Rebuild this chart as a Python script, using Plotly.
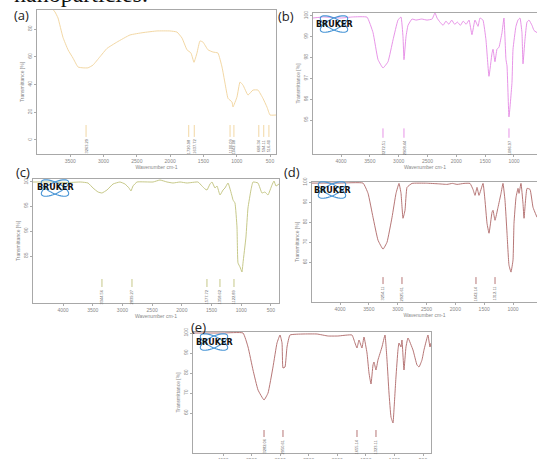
import math
import plotly.graph_objects as go

W, H = 537, 459

# ---------------- data ----------------
a_wn = [4000, 3800, 3730, 3685, 3610, 3534, 3459, 3384, 3309, 3234, 3159, 3054, 2949, 2798, 2603, 2408,
        2198, 2002, 1897, 1822, 1747, 1687, 1642, 1597, 1552, 1507, 1432, 1357, 1282, 1221, 1176, 1131,
        1071, 1056, 996, 951, 906, 831, 756, 681, 606, 546, 500, 410]
a_tr = [96, 96, 92.3, 88, 74, 65, 59, 52.6, 52, 52, 54, 60, 66, 70.6, 75.7, 77.4,
        78.6, 78.6, 77.8, 73.5, 65, 62.7, 56, 62.7, 71.4, 70.6, 65, 63.4, 62.7, 52.6, 41, 30,
        27.4, 23.8, 31, 41.8, 39.6, 32.4, 36, 36, 30, 23.8, 18, 18]
a_peaks = [3263.29, 1720.98, 1637.72, 1100.09, 1042.08, 668.34, 594.11, 516.40]
a_peak_labels = ["3263.29", "1720.98", "1637.72", "1100.09", "1042.08", "668.34", "594.11", "516.40"]

b_wn = [4486, 4300, 4000, 3800, 3549, 3445, 3358, 3272, 3185, 3098, 3012, 2960, 2925, 2908, 2873, 2838,
        2769, 2700, 2600, 2509, 2420, 2370, 2335, 2283, 2230, 2180, 2130, 2080, 2030, 1980, 1930, 1880,
        1830, 1780, 1729, 1677, 1624, 1590, 1538, 1486, 1434, 1382, 1364, 1330, 1295, 1260, 1208, 1174,
        1139, 1121, 1087, 1035, 1017, 966, 931, 896, 862, 844, 810, 775, 740, 688, 653, 601]
b_tr = [99.9, 99.95, 99.9, 99.95, 99.94, 99.2, 97.9, 97.5, 97.8, 98.85, 99.8, 99.95, 99.0, 97.9, 99.0, 99.55,
        99.85, 99.8, 99.85, 99.8, 99.85, 100.15, 99.9, 99.7, 99.55, 99.75, 99.6, 99.8, 99.6, 99.7, 99.55, 99.75,
        99.6, 99.8, 99.1, 99.8, 99.5, 99.9, 99.8, 98.85, 97.1, 98.2, 98.4, 97.8, 98.4, 98.5, 99.2, 99.9,
        97.9, 97.6, 95.15, 96.8, 98.4, 99.5, 99.8, 99.9, 99.2, 97.7, 98.85, 99.7, 99.8, 99.55, 99.3, 99.2]
b_peaks = [3272.51, 2908.44, 1086.97]
b_peak_labels = ["3272.51", "2908.44", "1086.97"]

c_wn = [4505, 4200, 3900, 3700, 3579, 3495, 3411, 3344, 3260, 3158, 3041, 2957, 2889, 2856, 2822, 2755,
        2485, 2368, 2250, 2149, 2031, 1913, 1728, 1661, 1610, 1577, 1526, 1493, 1442, 1408, 1358, 1307,
        1274, 1223, 1156, 1139, 1106, 1072, 1055, 1021, 988, 971, 921, 887, 837, 803, 719, 652,
        601, 551, 483, 449, 416, 365]
c_tr = [99.8, 99.8, 99.7, 99.8, 99.6, 98.6, 97.8, 97.6, 98.2, 99.4, 99.8, 99.4, 98.6, 98.0, 99.0, 99.8,
        99.8, 100.2, 99.8, 99.6, 99.8, 99.6, 99.8, 99.0, 98.4, 98.2, 99.4, 99.8, 98.6, 99.0, 97.2, 98.2,
        98.6, 99.6, 97.0, 96.2, 95.6, 90.8, 83.6, 82.8, 81.8, 83.6, 88.8, 94.6, 98.2, 99.8, 99.6, 97.6,
        97.8, 97.2, 99.2, 100.0, 99.0, 99.4]
c_peaks = [3344.56, 2839.27, 1577.72, 1358.62, 1122.89]
c_peak_labels = ["3344.56", "2839.27", "1577.72", "1358.62", "1122.89"]

d_wn = [4486, 4000, 3601, 3514, 3428, 3341, 3254, 3185, 3098, 3029, 2977, 2942, 2908, 2873, 2838, 2752,
        2500, 2300, 2145, 2050, 1971, 1850, 1746, 1694, 1659, 1624, 1590, 1520, 1486, 1451, 1416, 1364,
        1347, 1312, 1260, 1208, 1174, 1139, 1104, 1070, 1035, 1000, 983, 948, 913, 896, 862, 827,
        809, 757, 705, 653, 584]
d_tr = [99.65, 99.65, 99.65, 94.5, 82.5, 71, 66.5, 70, 82.5, 94.5, 99.5, 94.5, 82, 86, 97.5, 99.5,
        99.6, 99.3, 99.0, 99.5, 99.0, 99.5, 99.5, 96.5, 93.5, 97.5, 93.5, 99.5, 91, 79.5, 74.5, 85,
        86, 81, 87.5, 94.5, 99.5, 91, 74.5, 58.5, 55, 61, 79.5, 92.5, 97, 94.5, 99.5, 89.5,
        82, 97, 96.5, 87.5, 82.5]
d_peaks = [3254.11, 2925.61, 1642.14, 1312.11]
d_peak_labels = ["3254.11", "2925.61", "1642.14", "1312.11"]

e_wn = [4525, 4000, 3650, 3562, 3475, 3387, 3282, 3212, 3125, 3055, 3002, 2967, 2950, 2915, 2880, 2828,
        2600, 2355, 2163, 1988, 1743, 1690, 1655, 1620, 1568, 1533, 1480, 1445, 1410, 1375, 1358, 1323,
        1288, 1218, 1165, 1130, 1095, 1060, 1025, 1008, 973, 938, 920, 885, 868, 833, 798, 763,
        675, 605, 570, 518, 483, 430, 413, 378, 360]
e_tr = [100, 100, 100, 93, 81.5, 71.5, 66.5, 70, 83, 95, 99, 95, 82.5, 83, 93, 99,
        99.5, 99.5, 98.5, 98.5, 99, 95, 92.5, 96.5, 92.5, 98, 90, 80, 74.5, 84, 85.5, 81.5,
        86.5, 93, 99, 86.5, 70, 58, 55, 61.5, 78, 91.5, 95, 93, 96.5, 81.5, 93, 97.5,
        91.5, 84, 83, 86.5, 91.5, 97.5, 99, 93, 95]
e_peaks = [3282.06, 2950.61, 1655.14, 1323.11]
e_peak_labels = ["3282.06", "2950.61", "1655.14", "1323.11"]

a_xticks = [3500, 3000, 2500, 2000, 1500, 1000, 500]
b_xticks = [4000, 3500, 3000, 2500, 2000, 1500, 1000]
c_xticks = [4000, 3500, 3000, 2500, 2000, 1500, 1000, 500]
d_xticks = [4000, 3500, 3000, 2500, 2000, 1500, 1000]
e_xticks = [4000, 3500, 3000, 2500, 2000, 1500, 1000, 500]
a_yticks = [0, 20, 40, 60, 80]
b_yticks = [95, 96, 97, 98, 99, 100]
c_yticks = [85, 90, 95, 100]
d_yticks = [60, 70, 80, 90, 100]
e_yticks = [60, 70, 80, 90, 100]
panel_labels = ["(a)", "(b)", "(c)", "(d)", "(e)"]
x_titles = ["Wavenumber cm-1", "Wavenumber cm-1", "Wavenumber cm-1", "Wavenumber cm-1", ""]

# ---------------- layout config ----------------
def px_x(x):
    return x / W

def px_y(y):
    return 1 - y / H

panels = [
    dict(box=(37, 10, 276, 154), xr=[4000, 410], yr=[-10.1, 93.7], color="#F0D29A",
         wn=a_wn, tr=a_tr, xt=a_xticks, yt=a_yticks, pk=a_peaks, pl=a_peak_labels, my=(10.8, 2.2),
         logo=None, mirror_right=True, lab=(21, 15)),
    dict(box=(313, 13, 537, 154), xr=[4486, 601], yr=[93.37, 100.14], color="#E488E4",
         wn=b_wn, tr=b_tr, xt=b_xticks, yt=b_yticks, pk=b_peaks, pl=b_peak_labels, my=(94.6, 94.15),
         logo=(334, 24), mirror_right=False, lab=(286, 16)),
    dict(box=(33, 179, 279, 303), xr=[4505, 365], yr=[75.6, 100.4], color="#BFC27C",
         wn=c_wn, tr=c_tr, xt=c_xticks, yt=c_yticks, pk=c_peaks, pl=c_peak_labels, my=(80.4, 78.8),
         logo=(55, 188), mirror_right=True, lab=(23, 172)),
    dict(box=(312, 182, 537, 302), xr=[4486, 584], yr=[40, 100.2], color="#AE6666",
         wn=d_wn, tr=d_tr, xt=d_xticks, yt=d_yticks, pk=d_peaks, pl=d_peak_labels, my=(52.5, 49),
         logo=(332, 190), mirror_right=False, lab=(292, 172)),
    dict(box=(193, 332, 431, 453), xr=[4525, 360], yr=[40, 100.5], color="#AE6666",
         wn=e_wn, tr=e_tr, xt=e_xticks, yt=e_yticks, pk=e_peaks, pl=e_peak_labels, my=(51.5, 48),
         logo=(214, 342), mirror_right=True, lab=(198, 327)),
]

fig = go.Figure()
layout = dict(width=W, height=H, margin=dict(l=0, r=0, t=0, b=0, autoexpand=False),
              paper_bgcolor="white", plot_bgcolor="white", showlegend=False)
annotations = []
shapes = []

def ellipse_path(cx, cy, a, b, ang):
    pts = []
    for k in range(41):
        t = 2 * math.pi * k / 40
        ex, ey = a * math.cos(t), b * math.sin(t)
        xr = cx + ex * math.cos(ang) - ey * math.sin(ang)
        yr = cy + ex * math.sin(ang) + ey * math.cos(ang)
        pts.append((px_x(xr), px_y(yr)))
    return "M " + " L ".join(f"{x:.5f},{y:.5f}" for x, y in pts) + " Z"

for i, p in enumerate(panels):
    n = "" if i == 0 else str(i + 1)
    l, t, r, b = p["box"]
    xa = "x" + n
    ya = "y" + n
    fig.add_trace(go.Scatter(x=p["wn"], y=p["tr"], mode="lines", xaxis=xa, yaxis=ya,
                             line=dict(color=p["color"], width=0.9, shape="spline", smoothing=0.35),
                             hoverinfo="skip"))
    mx, my = [], []
    for w in p["pk"]:
        mx += [w, w, None]
        my += [p["my"][0], p["my"][1], None]
    fig.add_trace(go.Scatter(x=mx, y=my, mode="lines", xaxis=xa, yaxis=ya,
                             line=dict(color=p["color"], width=0.9), hoverinfo="skip"))
    for w, lbl in zip(p["pk"], p["pl"]):
        annotations.append(dict(x=w, y=p["my"][1], xref=xa, yref=ya, text=lbl, showarrow=False,
                                textangle=-90, yanchor="top", xanchor="center",
                                font=dict(size=4, color="#666", family="Liberation Sans")))
    axis_common = dict(showline=True, linecolor="#a8a8a8", linewidth=1, ticks="outside", ticklen=2,
                       tickcolor="#aaa", tickfont=dict(size=5, color="#888", family="Liberation Sans"),
                       showgrid=False, zeroline=False, automargin=False, fixedrange=True)
    layout["xaxis" + n] = dict(axis_common, domain=[px_x(l), px_x(r)], range=p["xr"], anchor=ya,
                               tickvals=p["xt"], mirror=True,
                               title=dict(text=x_titles[i], standoff=1,
                                          font=dict(size=5, color="#888", family="Liberation Sans")))
    layout["yaxis" + n] = dict(axis_common, domain=[px_y(b), px_y(t)], range=p["yr"], anchor=xa,
                               tickvals=p["yt"], tickangle=-90, mirror=p["mirror_right"],
                               title=dict(text="Transmittance [%]", standoff=2,
                                          font=dict(size=5, color="#888", family="Liberation Sans")))
    annotations.append(dict(x=px_x(p["lab"][0]), y=px_y(p["lab"][1]), xref="paper", yref="paper",
                            text=panel_labels[i], showarrow=False, xanchor="center", yanchor="middle",
                            font=dict(size=13, color="#222", family="Open Sans")))
    if p["logo"]:
        cx, cy = p["logo"]
        for ang in (math.radians(26), math.radians(-26)):
            shapes.append(dict(type="path", path=ellipse_path(cx, cy, 15, 5.5, ang), xref="paper",
                               yref="paper", line=dict(color="#4A96D6", width=1.1)))
        annotations.append(dict(x=px_x(cx), y=px_y(cy), xref="paper", yref="paper",
                                text="<b>BRUKER</b>", showarrow=False, xanchor="center", yanchor="middle",
                                font=dict(size=8, color="#111", family="DejaVu Sans")))

annotations.append(dict(x=px_x(12), y=px_y(9), xref="paper", yref="paper", text="nanoparticles.",
                        showarrow=False, xanchor="left", yanchor="bottom",
                        font=dict(size=24, color="#111", family="Liberation Serif")))

layout["annotations"] = annotations
layout["shapes"] = shapes
fig.update_layout(**layout)
fig.write_html("out.html", config={"displayModeBar": False, "staticPlot": True},
               post_script="document.body.style.margin='0';document.body.style.overflow='hidden';")
